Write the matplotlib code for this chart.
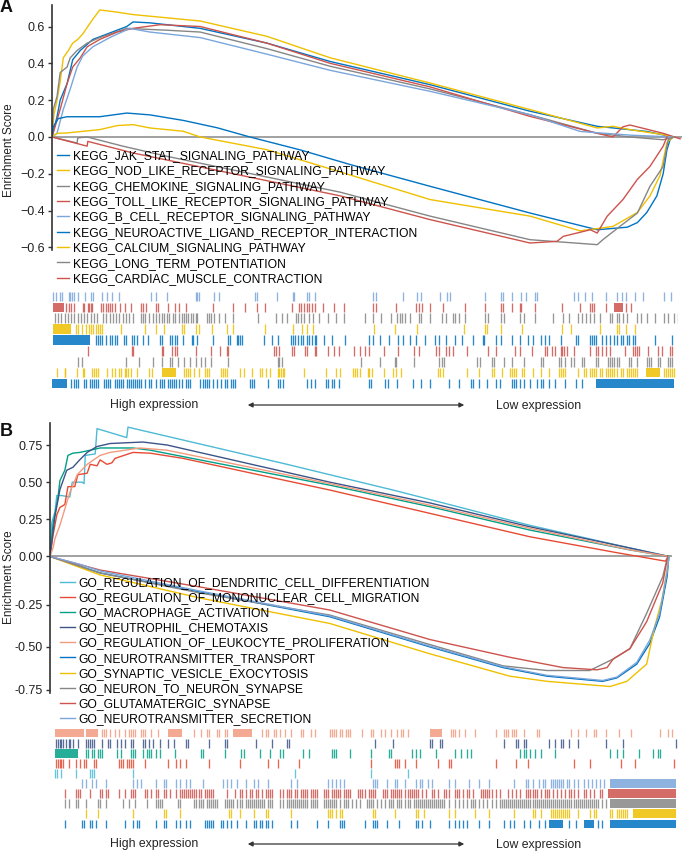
import numpy as np
import matplotlib
matplotlib.use("Agg")
import matplotlib.pyplot as plt
from matplotlib.patches import Rectangle

plt.rcParams['font.family'] = ['Liberation Sans', 'DejaVu Sans']

# ---------------- colours ----------------
JCO_BLUE, JCO_YEL, JCO_GRAY, JCO_RED, JCO_LB = "#0073C2", "#EFC000", "#868686", "#CD534C", "#7AA6DC"
NPG_CYAN, NPG_RED, NPG_GREEN, NPG_DBLUE, NPG_SALMON = "#4DBBD5", "#E64B35", "#00A087", "#3C5488", "#F39B7F"

# ---------------- panel A : running enrichment scores (x = % of ranked list) ----------------
a_names = ["KEGG_JAK_STAT_SIGNALING_PATHWAY", "KEGG_NOD_LIKE_RECEPTOR_SIGNALING_PATHWAY",
           "KEGG_CHEMOKINE_SIGNALING_PATHWAY", "KEGG_TOLL_LIKE_RECEPTOR_SIGNALING_PATHWAY",
           "KEGG_B_CELL_RECEPTOR_SIGNALING_PATHWAY", "KEGG_NEUROACTIVE_LIGAND_RECEPTOR_INTERACTION",
           "KEGG_CALCIUM_SIGNALING_PATHWAY", "KEGG_LONG_TERM_POTENTIATION",
           "KEGG_CARDIAC_MUSCLE_CONTRACTION"]
a_colors = [JCO_BLUE, JCO_YEL, JCO_GRAY, JCO_RED, JCO_LB, JCO_BLUE, JCO_YEL, JCO_GRAY, JCO_RED]

jak_x = [0, 0.8, 1.3, 2.4, 3.3, 4.5, 6.5, 9.2, 11.9, 12.9, 15.6, 18.3, 23.6, 34.2, 44.3, 60.2, 76.1, 86.8, 94.7, 98.9]
jak_es = [0, 0.11, 0.2, 0.29, 0.42, 0.47, 0.53, 0.565, 0.6, 0.625, 0.62, 0.61, 0.59, 0.51, 0.41, 0.284, 0.14, 0.058, 0.03, 0]
nod_x = [0, 0.3, 0.8, 1.3, 1.8, 2.6, 3.3, 4.1, 4.9, 5.7, 6.5, 7.6, 10.0, 12.9, 23.6, 34.2, 44.3, 60.2, 76.1, 86.8, 89.3, 92.0, 97.3, 98.9]
nod_es = [0, 0.12, 0.2, 0.3, 0.43, 0.47, 0.51, 0.53, 0.56, 0.6, 0.64, 0.69, 0.68, 0.665, 0.63, 0.547, 0.43, 0.293, 0.149, 0.049, 0.058, 0.04, 0.013, 0]
chemo_x = [0, 0.2, 0.8, 1.3, 2.4, 2.9, 4.0, 5.6, 7.6, 11.9, 18.3, 23.6, 34.2, 44.3, 60.2, 76.1, 86.8, 92.0, 97.3, 98.9]
chemo_es = [0, 0.15, 0.22, 0.35, 0.38, 0.43, 0.47, 0.51, 0.54, 0.59, 0.58, 0.57, 0.48, 0.384, 0.261, 0.121, 0.02, 0.0, -0.015, 0]
toll_x = [0, 1.3, 2.4, 3.3, 4.5, 5.6, 7.6, 10.4, 12.9, 17.2, 23.6, 34.2, 44.3, 60.2, 76.1, 86.8, 89.3, 90.9, 92.0, 97.3, 100]
toll_es = [0, 0.15, 0.29, 0.38, 0.43, 0.49, 0.53, 0.57, 0.59, 0.61, 0.60, 0.51, 0.40, 0.272, 0.112, 0.02, 0.0, 0.055, 0.065, 0.02, -0.01]
bcell_x = [0, 0.8, 1.8, 2.9, 4.0, 4.9, 6.5, 9.2, 12.4, 15.6, 23.6, 34.2, 44.3, 60.2, 76.1, 84.1, 92.0, 98.9]
bcell_es = [0, 0.02, 0.15, 0.26, 0.38, 0.44, 0.49, 0.54, 0.59, 0.57, 0.54, 0.45, 0.362, 0.248, 0.121, 0.03, 0.01, 0]
neuro_x = [0, 0.2, 1.0, 2.4, 7.6, 11.9, 15.6, 20.9, 26.3, 31.5, 39.5, 47.5, 60.2, 76.1, 86.8, 91.6, 93.2, 94.7, 96.3, 97.3, 97.9, 98.4, 98.9]
neuro_es = [0, 0.055, 0.1, 0.11, 0.11, 0.13, 0.12, 0.09, 0.05, 0.0, -0.07, -0.15, -0.268, -0.413, -0.504, -0.49, -0.465, -0.41, -0.32, -0.2, -0.07, -0.015, 0]
calc_x = [0, 0.8, 2.4, 7.6, 10.4, 12.9, 15.6, 20.9, 23.6, 34.2, 45.9, 60.2, 76.1, 84.1, 89.3, 93.2, 95.2, 96.8, 97.9, 98.9]
calc_es = [0, 0.02, 0.022, 0.04, 0.062, 0.067, 0.049, 0.031, 0.0, -0.069, -0.19, -0.34, -0.43, -0.51, -0.486, -0.41, -0.32, -0.21, -0.03, 0]
ltp_x = [0, 4.0, 4.1, 5.6, 11.3, 18.3, 45.9, 60.2, 76.1, 86.8, 87.7, 90.4, 93.2, 95.2, 97.3, 98.1, 98.9]
ltp_es = [0, -0.033, -0.005, 0.0, -0.05, -0.105, -0.30, -0.43, -0.558, -0.585, -0.558, -0.486, -0.413, -0.268, -0.16, -0.015, 0]
card_x = [0, 5.6, 5.7, 12.9, 45.9, 60.2, 76.1, 80.4, 81.4, 85.7, 86.8, 88.4, 90.9, 93.2, 95.2, 97.3, 97.9]
card_es = [0, -0.05, -0.024, -0.087, -0.32, -0.449, -0.576, -0.567, -0.54, -0.504, -0.522, -0.43, -0.34, -0.23, -0.16, -0.05, 0]

a_curves = [(jak_x, jak_es), (nod_x, nod_es), (chemo_x, chemo_es), (toll_x, toll_es), (bcell_x, bcell_es),
            (neuro_x, neuro_es), (calc_x, calc_es), (ltp_x, ltp_es), (card_x, card_es)]

# ---------------- panel A : hit positions in the ranked list (rank units 15..1545) ----------------
a_bcell_hits = [20, 28, 38, 42, 58, 62, 66, 70, 82, 97, 112, 118, 140, 152, 165, 180, 258, 270, 298, 368, 372, 376,
                412, 425, 513, 518, 566, 606, 608, 640, 645, 658, 800, 808, 875, 908, 918, 965, 982, 988, 1075,
                1112, 1118, 1140, 1163, 1175, 1195, 1200, 1290, 1300, 1318, 1335, 1370, 1395, 1408, 1418, 1440,
                1460, 1510, 1528]
a_bcell_blocks = []
a_toll_hits = [52, 58, 64, 70, 92, 95, 105, 108, 112, 116, 138, 142, 148, 155, 160, 165, 172, 184, 195, 210, 235, 240,
               248, 270, 275, 300, 318, 328, 345, 410, 460, 488, 518, 536, 602, 620, 625, 632, 640, 645, 652, 658,
               678, 705, 730, 800, 808, 856, 905, 912, 920, 940, 972, 1025, 1075, 1112, 1118, 1140, 1160, 1163,
               1195, 1262, 1305, 1330, 1335, 1340, 1370, 1418, 1430]
a_toll_blocks = [(20, 46), (1390, 1410)]
a_chemo_hits = [235, 240, 245, 255, 265, 272, 278, 285, 290, 298, 304, 312, 318, 328, 335, 340, 345, 350, 356, 362,
                368, 372, 395, 400, 405, 412, 425, 440, 460, 520, 565, 578, 590, 612, 618, 625, 632, 645, 655, 670,
                690, 710, 730, 780, 800, 820, 845, 860, 866, 872, 880, 890, 912, 918, 940, 970, 980, 995, 1000, 1010,
                1025, 1075, 1082, 1112, 1120, 1160, 1170, 1195, 1240, 1265, 1280, 1300, 1310, 1320, 1330, 1340,
                1355, 1380, 1385, 1395, 1400, 1410, 1420, 1445, 1455, 1470, 1490, 1512, 1520, 1535, 1545,
                24, 32, 40, 48, 56, 64, 72, 80, 88, 96, 104, 112, 120, 128, 142, 150, 158, 166, 174, 182, 190,
                198, 206, 214]
a_chemo_blocks = []
a_nod_hits = [75, 80, 90, 100, 108, 112, 118, 125, 130, 135, 140, 185, 245, 270, 290, 335, 340, 370, 375, 408, 445,
              460, 538, 605, 628, 640, 655, 802, 855, 908, 1022, 1075, 1080, 1112, 1165, 1262, 1285, 1355, 1395,
              1400, 1418, 1440]
a_nod_blocks = [(20, 65)]
a_jak_hits = [125, 130, 135, 140, 150, 160, 165, 170, 175, 192, 197, 212, 218, 225, 240, 252, 280, 285, 305, 310,
              318, 322, 338, 358, 362, 372, 410, 448, 452, 468, 472, 476, 480, 535, 555, 570, 600, 605, 610, 618,
              625, 630, 640, 645, 652, 658, 662, 680, 700, 732, 790, 800, 818, 840, 862, 875, 890, 905, 928, 952,
              962, 980, 1000, 1018, 1045, 1068, 1072, 1100, 1112, 1140, 1160, 1180, 1190, 1210, 1220, 1230, 1260,
              1295, 1300, 1330, 1335, 1340, 1345, 1360, 1370, 1380, 1390, 1395, 1405, 1410, 1420, 1425, 1435,
              1440, 1490, 1530]
a_jak_blocks = [(20, 110)]
a_card_hits = [105, 212, 215, 285, 288, 310, 318, 322, 370, 405, 428, 445, 448, 560, 565, 572, 602, 608, 635, 640,
               658, 662, 690, 705, 718, 755, 770, 782, 792, 828, 862, 902, 912, 955, 962, 978, 985, 995, 1030,
               1082, 1100, 1148, 1160, 1188, 1220, 1225, 1238, 1245, 1260, 1262, 1268, 1275, 1290, 1330, 1345,
               1350, 1360, 1370, 1380, 1415, 1435, 1440, 1445, 1450, 1472, 1495, 1505, 1525, 1530]
a_card_blocks = []
a_ltp_hits = [82, 90, 198, 230, 265, 285, 305, 310, 325, 340, 355, 370, 380, 392, 405, 448, 568, 572, 578, 772, 818,
              855, 858, 900, 962, 968, 975, 1055, 1062, 1090, 1095, 1120, 1140, 1170, 1210, 1215, 1255, 1260, 1270,
              1285, 1290, 1310, 1315, 1345, 1350, 1375, 1380, 1385, 1390, 1395, 1400, 1425, 1430, 1445, 1470,
              1475, 1480, 1495, 1500, 1520, 1525, 1530]
a_ltp_blocks = []
a_calc_hits = [30, 48, 50, 78, 92, 95, 115, 120, 125, 130, 152, 165, 170, 180, 185, 195, 198, 202, 210, 225, 255,
               262, 340, 345, 350, 355, 365, 375, 390, 395, 400, 430, 435, 440, 445, 475, 485, 505, 525, 530, 540,
               550, 568, 572, 576, 580, 584, 632, 685, 710, 720, 752, 758, 762, 768, 788, 792, 798, 828, 850, 858,
               870, 960, 965, 972, 1030, 1060, 1090, 1095, 1115, 1135, 1140, 1145, 1150, 1165, 1170, 1190, 1210,
               1230, 1255, 1260, 1265, 1270, 1300, 1315, 1320, 1330, 1335, 1340, 1345, 1355, 1360, 1370, 1375,
               1380, 1385, 1390, 1395, 1405, 1410, 1420, 1425, 1430, 1435, 1440, 1445, 1510, 1515, 1520, 1525,
               1530, 1535]
a_calc_blocks = [(285, 320), (1468, 1500)]
a_neuro_hits = [65, 70, 75, 80, 95, 100, 110, 115, 120, 125, 130, 145, 150, 155, 160, 170, 175, 180, 185, 190, 200,
                205, 210, 215, 220, 225, 230, 235, 245, 255, 260, 270, 280, 285, 290, 300, 305, 310, 315, 320, 328,
                335, 345, 350, 355, 378, 385, 390, 395, 400, 410, 420, 430, 440, 445, 455, 460, 465, 500, 505, 510,
                545, 570, 575, 580, 640, 650, 660, 685, 690, 700, 705, 718, 790, 795, 830, 838, 860, 898, 918, 940,
                985, 1010, 1040, 1045, 1060, 1080, 1100, 1110, 1140, 1145, 1150, 1160, 1170, 1185, 1200, 1210,
                1215, 1230, 1245, 1270, 1295, 1310]
a_neuro_blocks = [(18, 55), (1345, 1535)]

a_rug_rows = [(a_bcell_hits, a_bcell_blocks, JCO_LB), (a_toll_hits, a_toll_blocks, JCO_RED),
              (a_chemo_hits, a_chemo_blocks, JCO_GRAY), (a_nod_hits, a_nod_blocks, JCO_YEL),
              (a_jak_hits, a_jak_blocks, JCO_BLUE), (a_card_hits, a_card_blocks, JCO_RED),
              (a_ltp_hits, a_ltp_blocks, JCO_GRAY), (a_calc_hits, a_calc_blocks, JCO_YEL),
              (a_neuro_hits, a_neuro_blocks, JCO_BLUE)]

# ---------------- panel B : running enrichment scores ----------------
b_names = ["GO_REGULATION_OF_DENDRITIC_CELL_DIFFERENTIATION", "GO_REGULATION_OF_MONONUCLEAR_CELL_MIGRATION",
           "GO_MACROPHAGE_ACTIVATION", "GO_NEUTROPHIL_CHEMOTAXIS", "GO_REGULATION_OF_LEUKOCYTE_PROLIFERATION",
           "GO_NEUROTRANSMITTER_TRANSPORT", "GO_SYNAPTIC_VESICLE_EXOCYTOSIS", "GO_NEURON_TO_NEURON_SYNAPSE",
           "GO_GLUTAMATERGIC_SYNAPSE", "GO_NEUROTRANSMITTER_SECRETION"]
b_colors = [NPG_CYAN, NPG_RED, NPG_GREEN, NPG_DBLUE, NPG_SALMON, JCO_BLUE, JCO_YEL, JCO_GRAY, JCO_RED, JCO_LB]

dend_x = [0, 0.3, 0.8, 1.1, 1.9, 3.2, 3.6, 5.2, 5.5, 5.7, 7.3, 7.6, 12.4, 12.6, 38.3, 56.1, 77.5, 93.7, 100]
dend_es = [0, 0.23, 0.30, 0.41, 0.41, 0.40, 0.50, 0.50, 0.49, 0.68, 0.69, 0.86, 0.80, 0.87, 0.62, 0.44, 0.21, 0.057, 0]
mono_x = [0, 0.5, 1.1, 1.6, 2.4, 2.9, 4.0, 4.5, 6.0, 6.5, 7.6, 8.1, 9.2, 10.0, 10.5, 13.4, 16.2, 21.5, 45.2, 61.4, 77.5, 91.0, 99.4, 100]
mono_es = [0, 0.145, 0.28, 0.33, 0.35, 0.47, 0.47, 0.55, 0.56, 0.62, 0.61, 0.65, 0.62, 0.63, 0.66, 0.70, 0.695, 0.66, 0.447, 0.29, 0.133, 0.03, -0.024, 0]
macro_x = [0, 0.5, 1.3, 1.6, 2.4, 2.9, 3.7, 4.8, 6.5, 8.1, 13.4, 16.2, 24.2, 45.2, 61.4, 77.5, 93.7, 100]
macro_es = [0, 0.22, 0.40, 0.51, 0.58, 0.68, 0.695, 0.70, 0.715, 0.73, 0.73, 0.715, 0.65, 0.48, 0.335, 0.178, 0.044, 0]
neutro_x = [0, 0.8, 1.6, 2.7, 3.7, 4.8, 6.0, 7.6, 9.7, 15.0, 18.9, 45.2, 61.4, 77.5, 93.7, 100]
neutro_es = [0, 0.27, 0.45, 0.58, 0.60, 0.65, 0.70, 0.74, 0.76, 0.77, 0.75, 0.50, 0.36, 0.20, 0.057, 0]
leuko_x = [0, 0.5, 0.8, 1.6, 2.4, 3.2, 4.4, 6.0, 8.1, 9.7, 14.5, 18.9, 45.2, 61.4, 77.5, 93.7, 100]
leuko_es = [0, 0.06, 0.12, 0.21, 0.32, 0.43, 0.55, 0.62, 0.68, 0.70, 0.73, 0.715, 0.49, 0.345, 0.19, 0.045, 0]
nttr_x = [0, 4.8, 8.1, 24.2, 45.2, 61.4, 73.2, 80.3, 89.3, 91.6, 94.8, 96.9, 98.5, 99.7, 100]
nttr_es = [0, -0.05, -0.085, -0.183, -0.32, -0.50, -0.62, -0.67, -0.70, -0.68, -0.60, -0.48, -0.32, -0.105, 0]
syn_x = [0, 8.1, 24.2, 45.2, 61.4, 74.3, 80.3, 90.5, 93.2, 96.4, 97.7, 98.9, 99.7, 100]
syn_es = [0, -0.095, -0.214, -0.36, -0.54, -0.67, -0.70, -0.73, -0.70, -0.60, -0.38, -0.22, -0.07, 0]
n2n_x = [0, 8.1, 24.2, 45.2, 61.4, 73.2, 80.3, 87.2, 91.0, 93.7, 96.4, 99.0, 99.8]
n2n_es = [0, -0.085, -0.188, -0.31, -0.486, -0.61, -0.637, -0.637, -0.57, -0.51, -0.30, -0.105, 0]
glut_x = [0, 8.1, 24.2, 45.2, 61.4, 74.3, 82.9, 88.4, 90.0, 91.0, 93.7, 96.4, 99.0, 99.8]
glut_es = [0, -0.07, -0.157, -0.28, -0.456, -0.56, -0.62, -0.633, -0.62, -0.57, -0.51, -0.35, -0.137, 0]
ntsec_x = [0, 4.8, 8.1, 24.2, 45.2, 61.4, 73.2, 80.3, 89.3, 91.6, 94.8, 96.9, 98.5, 99.7, 100]
ntsec_es = [0, -0.04, -0.075, -0.178, -0.315, -0.495, -0.615, -0.665, -0.695, -0.675, -0.59, -0.46, -0.30, -0.08, 0]

b_curves = [(dend_x, dend_es), (mono_x, mono_es), (macro_x, macro_es), (neutro_x, neutro_es), (leuko_x, leuko_es),
            (nttr_x, nttr_es), (syn_x, syn_es), (n2n_x, n2n_es), (glut_x, glut_es), (ntsec_x, ntsec_es)]

# ---------------- panel B : hit positions ----------------
b_leuko_hits = [140, 145, 150, 160, 170, 180, 195, 205, 210, 215, 220, 235, 240, 245, 260, 275, 365, 380, 395, 400,
                420, 425, 440, 445, 530, 540, 545, 560, 565, 575, 585, 600, 625, 630, 650, 660, 695, 700, 705, 710,
                720, 725, 735, 740, 745, 775, 795, 800, 820, 830, 845, 860, 870, 875, 885, 990, 995, 1000, 1010,
                1025, 1050, 1100, 1120, 1125, 1130, 1140, 1145, 1150, 1170, 1200, 1205, 1285, 1300, 1320, 1340,
                1345, 1370, 1400, 1430, 1500, 1520, 1530]
b_leuko_blocks = [(25, 95), (100, 130), (300, 335), (460, 505), (940, 970)]
b_neutro_hits = [28, 32, 36, 40, 45, 52, 58, 62, 68, 80, 100, 105, 110, 115, 120, 140, 155, 160, 175, 185, 195,
                 210, 215, 240, 245, 255, 265, 280, 300, 315, 345, 350, 400, 440, 445, 515, 555, 590, 595, 805, 850,
                 940, 945, 965, 970, 1120, 1150, 1155, 1170, 1175, 1230, 1245, 1260, 1265, 1280, 1300, 1370, 1410,
                 1540]
b_neutro_blocks = []
b_macro_hits = [100, 105, 115, 120, 130, 135, 140, 175, 185, 210, 215, 220, 240, 250, 255, 260, 270, 280, 318, 380,
                385, 440, 478, 485, 525, 550, 575, 580, 630, 645, 700, 705, 710, 745, 795, 840, 845, 895, 905, 915,
                955, 1000, 1015, 1030, 1040, 1160, 1170, 1175, 1185, 1195, 1210, 1245, 1380, 1395, 1410, 1450,
                1485, 1495, 1500]
b_macro_blocks = [(25, 80)]
b_mono_hits = [28, 32, 36, 40, 45, 60, 75, 85, 95, 100, 120, 125, 180, 185, 190, 200, 205, 210, 215, 245, 300, 320,
               330, 345, 400, 475, 545, 570, 620, 795, 855, 860, 865, 880, 905, 960, 985, 990, 1100, 1150, 1180,
               1290, 1330, 1405, 1440, 1535]
b_mono_blocks = []
b_dend_hits = [25, 30, 40, 75, 110, 115, 120, 215, 610, 795, 885]
b_dend_blocks = []
b_ntsec_hits = [90, 100, 115, 125, 150, 215, 225, 235, 270, 290, 295, 320, 330, 345, 355, 385, 435, 445, 455, 470,
                490, 510, 520, 545, 600, 615, 690, 700, 710, 720, 730, 800, 805, 810, 835, 855, 860, 880, 905, 915,
                920, 935, 945, 985, 1000, 1035, 1060, 1085, 1145, 1175, 1180, 1190, 1205, 1215, 1220, 1235, 1240,
                1245, 1250, 1255, 1260, 1265, 1275, 1280, 1290, 1300, 1315, 1325, 1335, 1345, 1355, 1365]
b_ntsec_blocks = [(1380, 1540)]
b_glut_hits = [50, 75, 80, 85, 110, 135, 140, 150, 155, 180, 195, 210, 215, 220, 245, 250, 260, 270, 275, 290, 295,
               305, 320, 330, 335, 340, 345, 350, 355, 360, 365, 370, 375, 380, 390, 395, 400, 405, 410, 445, 465,
               475, 480, 490, 500, 505, 515, 520, 530, 540, 545, 550, 555, 575, 580, 590, 595, 600, 610, 615, 625,
               630, 635, 640, 650, 655, 660, 665, 680, 685, 690, 700, 705, 710, 715, 720, 730, 735, 740, 745, 765,
               770, 775, 780, 790, 795, 800, 805, 825, 830, 835, 845, 850, 855, 860, 865, 870, 880, 885, 890, 895,
               900, 905, 910, 920, 930, 945, 950, 960, 975, 980, 985, 1000, 1005, 1010, 1020, 1030, 1035, 1045,
               1065, 1070, 1075, 1080, 1085, 1090, 1100, 1110, 1130, 1140, 1150, 1160, 1175, 1180, 1185, 1190,
               1195, 1200, 1210, 1220, 1225, 1230, 1240, 1250, 1260, 1270, 1280, 1285, 1290, 1300, 1315, 1320,
               1330, 1340, 1355, 1360]
b_glut_blocks = [(1375, 1540)]
b_n2n_hits = [50, 60, 75, 80, 100, 130, 135, 150, 190, 205, 220, 250, 270, 275, 280, 285, 325, 330, 365, 370, 375,
              380, 385, 395, 400, 405, 410, 415, 420, 440, 445, 450, 455, 460, 470, 475, 480, 490, 495, 500, 505,
              510, 515, 520, 525, 530, 535, 545, 550, 555, 575, 580, 590, 595, 600, 605, 610, 615, 620, 625, 630,
              635, 640, 650, 655, 660, 665, 680, 685, 690, 695, 700, 705, 710, 720, 730, 735, 740, 750, 760, 770,
              785, 790, 795, 800, 810, 820, 830, 840, 845, 850, 860, 865, 870, 880, 885, 890, 900, 905, 910, 915,
              920, 925, 930, 935, 940, 945, 950, 955, 960, 965, 970, 975, 985, 1000, 1010, 1020, 1030, 1040, 1045,
              1050, 1060, 1070, 1080, 1090, 1100, 1110, 1115, 1120, 1125, 1130, 1135, 1140, 1145, 1150, 1155,
              1160, 1165, 1170, 1175, 1180, 1185, 1190, 1195, 1200, 1205, 1210, 1215, 1220, 1225, 1230, 1235,
              1240, 1245, 1250, 1255, 1260, 1265, 1270, 1275, 1280, 1285, 1290, 1295, 1300, 1305, 1310, 1315,
              1320, 1325, 1330, 1335, 1340, 1345, 1350, 1360, 1370]
b_n2n_blocks = [(1380, 1540)]
b_syn_hits = [100, 130, 215, 290, 295, 330, 450, 455, 475, 510, 540, 545, 600, 690, 695, 700, 710, 720, 725, 800,
              805, 855, 905, 910, 925, 985, 1000, 1050, 1085, 1145, 1190, 1195, 1210, 1235, 1240, 1245, 1250, 1255,
              1260, 1265, 1270, 1275, 1280, 1300, 1330, 1340, 1345, 1380, 1385, 1395, 1400, 1405, 1410, 1415, 1420]
b_syn_blocks = [(1435, 1540)]
b_nttr_hits = [50, 90, 95, 110, 115, 125, 150, 195, 215, 225, 230, 270, 290, 295, 320, 330, 345, 355, 390, 395, 400,
               405, 410, 430, 435, 445, 455, 470, 490, 510, 515, 525, 530, 540, 545, 555, 600, 615, 665, 690, 720,
               725, 730, 780, 800, 805, 810, 835, 865, 905, 910, 920, 940, 985, 1000, 1010, 1020, 1030, 1060, 1085,
               1120, 1135, 1145, 1170, 1185, 1205, 1220, 1280, 1295, 1350, 1360]
b_nttr_blocks = [(1230, 1265), (1315, 1340), (1380, 1540)]

b_rug_rows = [(b_leuko_hits, b_leuko_blocks, NPG_SALMON), (b_neutro_hits, b_neutro_blocks, NPG_DBLUE),
              (b_macro_hits, b_macro_blocks, NPG_GREEN), (b_mono_hits, b_mono_blocks, NPG_RED),
              (b_dend_hits, b_dend_blocks, NPG_CYAN), (b_ntsec_hits, b_ntsec_blocks, JCO_LB),
              (b_glut_hits, b_glut_blocks, JCO_RED), (b_n2n_hits, b_n2n_blocks, JCO_GRAY),
              (b_syn_hits, b_syn_blocks, JCO_YEL), (b_nttr_hits, b_nttr_blocks, JCO_BLUE)]

a_ticks = [-0.6, -0.4, -0.2, 0.0, 0.2, 0.4, 0.6]
a_ticklabels = ["\u22120.6", "\u22120.4", "\u22120.2", "0.0", "0.2", "0.4", "0.6"]
b_ticks = [-0.75, -0.5, -0.25, 0.0, 0.25, 0.5, 0.75]
b_ticklabels = ["-0.75", "-0.50", "-0.25", "0.00", "0.25", "0.50", "0.75"]

# ---------------- drawing ----------------
W, H = 685, 852
fig = plt.figure(figsize=(W / 100, H / 100), dpi=100)


def px_axes(l, t, r, b):
    return fig.add_axes([l / W, 1 - b / H, (r - l) / W, (b - t) / H])


def style_es_axes(ax):
    for s in ("top", "right", "bottom"):
        ax.spines[s].set_visible(False)
    ax.spines["left"].set_color("#333333")
    ax.spines["left"].set_linewidth(1.2)
    ax.set_xticks([])
    ax.tick_params(axis="y", length=3, width=1, color="#333333", labelsize=9, labelcolor="#222222", pad=2)
    ax.set_facecolor("none")


def draw_rug(ax, rows):
    n = len(rows)
    for i, (hits, blocks, col) in enumerate(rows):
        ax.vlines(hits, i + 0.06, i + 0.94, color=col, lw=0.95, alpha=0.85)
        for s, e in blocks:
            ax.add_patch(Rectangle((s, i + 0.06), e - s, 0.88, facecolor=col, edgecolor="none", alpha=0.85))
    ax.set_xlim(15, 1545)
    ax.set_ylim(n, 0)
    ax.axis("off")


def draw_expr_axis(y_px):
    fig.text(154 / W, 1 - y_px / H, "High expression", ha="center", va="center", fontsize=8.8, color="#222222")
    fig.text(539 / W, 1 - (y_px + 1) / H, "Low expression", ha="center", va="center", fontsize=8.8, color="#222222")
    fig.add_artist(matplotlib.patches.FancyArrowPatch((245 / W, 1 - y_px / H), (467 / W, 1 - y_px / H),
                                                      transform=fig.transFigure, arrowstyle="<|-|>",
                                                      mutation_scale=7, color="#333333", lw=0.9))


# ---- Panel A ----
axA = px_axes(52, 5, 682, 250)
style_es_axes(axA)
axA.set_xlim(0, 100.3)
axA.set_ylim(-0.614, 0.717)
axA.axhline(0, color="#9a9a9a", lw=1.3, zorder=1)
for (x, y), col, name in zip(a_curves, a_colors, a_names):
    axA.plot(x, y, color=col, lw=1.0, label=name, zorder=2)
axA.set_yticks(a_ticks)
axA.set_yticklabels(a_ticklabels)
axA.legend(loc="upper left", bbox_to_anchor=(57 / W, 1 - 150 / H), bbox_transform=fig.transFigure,
           frameon=False, fontsize=8.7, handlelength=1.0, handletextpad=0.35, labelspacing=0.28,
           borderpad=0, borderaxespad=0)
fig.text(9 / W, 1 - 150 / H, "Enrichment Score", rotation=90, ha="center", va="center", fontsize=8.5,
         color="#222222")
fig.text(0 / W, 1 - 8 / H, "A", ha="left", va="center", fontsize=13, fontweight="bold", color="#111111")

rugA = px_axes(51, 291, 678, 389)
draw_rug(rugA, a_rug_rows)
draw_expr_axis(405)

# ---- Panel B ----
KNOT_ES = [-2.0, -0.75, -0.5, -0.25, 0.0, 2.0]
KNOT_POS = [-133.5 - 1.25 * 170, -133.5, -90.5, -48.5, 0.0, 2.0 * 148.7]


def fwd(v):
    return np.interp(v, KNOT_ES, KNOT_POS)


def inv(p):
    return np.interp(p, KNOT_POS, KNOT_ES)


axB = px_axes(50, 423, 672, 693)
style_es_axes(axB)
axB.set_yscale("function", functions=(fwd, inv))
axB.set_xlim(0, 100.5)
axB.set_ylim(-0.768, 0.898)
axB.axhline(0, color="#9a9a9a", lw=1.3, zorder=1)
for (x, y), col, name in zip(b_curves, b_colors, b_names):
    axB.plot(x, y, color=col, lw=1.0, label=name, zorder=2)
axB.set_yticks(b_ticks)
axB.set_yticklabels(b_ticklabels)
axB.yaxis.set_minor_locator(matplotlib.ticker.NullLocator())
axB.legend(loc="upper left", bbox_to_anchor=(60 / W, 1 - 577 / H), bbox_transform=fig.transFigure,
           frameon=False, fontsize=8.7, handlelength=1.25, handletextpad=0.3, labelspacing=0.26,
           borderpad=0, borderaxespad=0)
fig.text(9 / W, 1 - 577 / H, "Enrichment Score", rotation=90, ha="center", va="center", fontsize=8.5,
         color="#222222")
fig.text(0 / W, 1 - 432 / H, "B", ha="left", va="center", fontsize=13, fontweight="bold", color="#111111")

rugB = px_axes(51, 728, 678, 829)
draw_rug(rugB, b_rug_rows)
draw_expr_axis(844)

fig.savefig("out.png", dpi=100)
